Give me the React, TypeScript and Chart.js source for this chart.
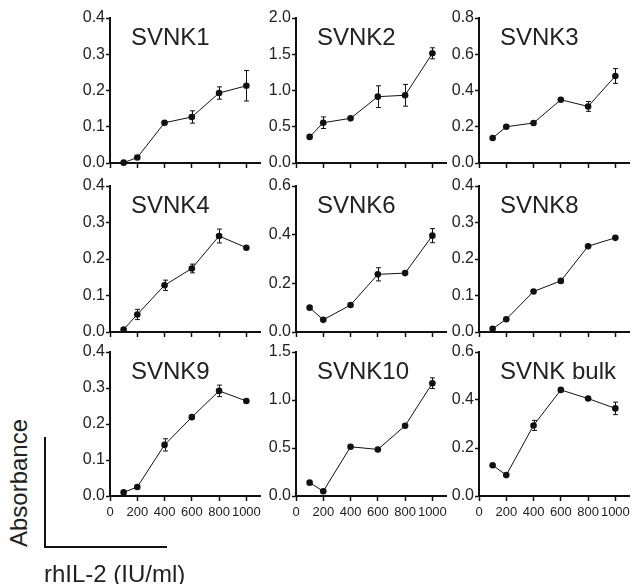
import React, { useEffect, useRef } from "react";
import { Chart, registerables } from "chart.js";

Chart.register(...registerables);

// ---------- data ----------
const DOSES = [100, 200, 400, 600, 800, 1000];
const X_TICKS = [0, 200, 400, 600, 800, 1000];

const Y_TICKS_04 = [0, 0.1, 0.2, 0.3, 0.4];
const Y_TICKS_20 = [0, 0.5, 1.0, 1.5, 2.0];
const Y_TICKS_08 = [0, 0.2, 0.4, 0.6, 0.8];
const Y_TICKS_06 = [0, 0.2, 0.4, 0.6];
const Y_TICKS_15 = [0, 0.5, 1.0, 1.5];

const TITLES = ["SVNK1", "SVNK2", "SVNK3", "SVNK4", "SVNK6", "SVNK8", "SVNK9", "SVNK10", "SVNK bulk"];

const SVNK1 = [0.001, 0.015, 0.111, 0.127, 0.193, 0.213];
const SVNK1_ERR = [0, 0, 0, 0.017, 0.017, 0.042];
const SVNK2 = [0.36, 0.556, 0.616, 0.915, 0.934, 1.513];
const SVNK2_ERR = [0, 0.08, 0, 0.15, 0.15, 0.076];
const SVNK3 = [0.138, 0.2, 0.221, 0.349, 0.312, 0.48];
const SVNK3_ERR = [0, 0, 0, 0, 0.027, 0.041];
const SVNK4 = [0.007, 0.048, 0.128, 0.174, 0.263, 0.231];
const SVNK4_ERR = [0, 0.014, 0.014, 0.012, 0.019, 0];
const SVNK6 = [0.1, 0.05, 0.111, 0.237, 0.242, 0.396];
const SVNK6_ERR = [0, 0, 0, 0.027, 0, 0.029];
const SVNK8 = [0.009, 0.035, 0.111, 0.14, 0.235, 0.258];
const SVNK8_ERR = [0, 0, 0, 0, 0, 0];
const SVNK9 = [0.01, 0.025, 0.142, 0.219, 0.292, 0.264];
const SVNK9_ERR = [0, 0, 0.017, 0, 0.016, 0];
const SVNK10 = [0.139, 0.049, 0.513, 0.485, 0.732, 1.175];
const SVNK10_ERR = [0, 0, 0, 0, 0, 0.056];
const SVNK_BULK = [0.128, 0.087, 0.294, 0.442, 0.406, 0.365];
const SVNK_BULK_ERR = [0, 0, 0.021, 0, 0, 0.026];

const Y_LABEL = "Absorbance";
const X_LABEL = "rhIL-2 (IU/ml)";

const PANELS = [
  { title: TITLES[0], values: SVNK1, errors: SVNK1_ERR, yTicks: Y_TICKS_04 },
  { title: TITLES[1], values: SVNK2, errors: SVNK2_ERR, yTicks: Y_TICKS_20 },
  { title: TITLES[2], values: SVNK3, errors: SVNK3_ERR, yTicks: Y_TICKS_08 },
  { title: TITLES[3], values: SVNK4, errors: SVNK4_ERR, yTicks: Y_TICKS_04 },
  { title: TITLES[4], values: SVNK6, errors: SVNK6_ERR, yTicks: Y_TICKS_06 },
  { title: TITLES[5], values: SVNK8, errors: SVNK8_ERR, yTicks: Y_TICKS_04 },
  { title: TITLES[6], values: SVNK9, errors: SVNK9_ERR, yTicks: Y_TICKS_04 },
  { title: TITLES[7], values: SVNK10, errors: SVNK10_ERR, yTicks: Y_TICKS_15 },
  { title: TITLES[8], values: SVNK_BULK, errors: SVNK_BULK_ERR, yTicks: Y_TICKS_06 },
];

// ---------- layout ----------
const FONT = '"Liberation Sans", Arial, Helvetica, sans-serif';
const COL_AXIS = [110, 296, 479];
const ROW_TOP = [18, 186, 352];
const ROW_H = [145, 146, 144];
const AREA_W = 150;
const Y_AXIS_W = 50;
const PAD_TOP = 12;
const PAD_RIGHT = 6;
const X_AXIS_H = 30;
const X_MAX = 1100;

type PanelProps = {
  title: string;
  values: number[];
  errors: number[];
  yTicks: number[];
  showXLabels: boolean;
  left: number;
  top: number;
  width: number;
  height: number;
};

function Panel(props: PanelProps) {
  const ref = useRef<HTMLCanvasElement | null>(null);
  useEffect(() => {
    const canvas = ref.current;
    if (!canvas) return;
    const { title, values, errors, yTicks, showXLabels } = props;

    const errorBars = {
      id: "errorBars",
      afterDatasetsDraw(chart: any) {
        const xs = chart.scales.x;
        const ys = chart.scales.y;
        const ctx = chart.ctx;
        ctx.save();
        ctx.strokeStyle = "#111";
        ctx.lineWidth = 1;
        values.forEach((v, i) => {
          const e = errors[i];
          if (!e) return;
          const x = Math.round(xs.getPixelForValue(DOSES[i])) + 0.5;
          const y1 = ys.getPixelForValue(v - e);
          const y2 = ys.getPixelForValue(v + e);
          ctx.beginPath();
          ctx.moveTo(x, y1);
          ctx.lineTo(x, y2);
          ctx.moveTo(x - 2.5, y1);
          ctx.lineTo(x + 2.5, y1);
          ctx.moveTo(x - 2.5, y2);
          ctx.lineTo(x + 2.5, y2);
          ctx.stroke();
        });
        ctx.restore();
      },
    };

    const panelTitle = {
      id: "panelTitle",
      afterDraw(chart: any) {
        const ctx = chart.ctx;
        const area = chart.chartArea;
        ctx.save();
        ctx.font = "24px " + FONT;
        ctx.fillStyle = "#222";
        ctx.textAlign = "left";
        ctx.textBaseline = "alphabetic";
        ctx.fillText(title, area.left + 21, area.top + 26.5);
        ctx.restore();
      },
    };

    const chart = new Chart(canvas, {
      type: "line",
      data: {
        datasets: [
          {
            data: values.map((v, i) => ({ x: DOSES[i], y: v })),
            borderColor: "#111",
            borderWidth: 1,
            pointRadius: 3.3,
            pointBackgroundColor: "#111",
            pointBorderWidth: 0,
            pointHoverRadius: 3.3,
            tension: 0,
            fill: false,
            clip: false as any,
          },
        ],
      },
      options: {
        animation: false,
        responsive: false,
        maintainAspectRatio: false,
        events: [],
        layout: { padding: { top: PAD_TOP, right: PAD_RIGHT, left: 0, bottom: 0 } },
        plugins: {
          legend: { display: false },
          tooltip: { enabled: false },
          title: { display: false },
        },
        scales: {
          x: {
            type: "linear",
            min: 0,
            max: X_MAX,
            afterBuildTicks: (s: any) => {
              s.ticks = X_TICKS.map((v) => ({ value: v }));
            },
            afterFit: (s: any) => {
              s.height = X_AXIS_H;
            },
            ticks: {
              autoSkip: false,
              maxRotation: 0,
              minRotation: 0,
              padding: 4,
              color: showXLabels ? "#222" : "rgba(0,0,0,0)",
              font: { family: FONT, size: 13 },
              callback: (v: any) => String(v),
            },
            grid: {
              display: true,
              drawOnChartArea: false,
              drawTicks: true,
              tickLength: 5,
              tickWidth: 1.5,
              tickColor: "#111",
            },
            border: { display: true, color: "#111", width: 2 },
          },
          y: {
            type: "linear",
            min: yTicks[0],
            max: yTicks[yTicks.length - 1],
            afterBuildTicks: (s: any) => {
              s.ticks = yTicks.map((v) => ({ value: v }));
            },
            afterFit: (s: any) => {
              s.width = Y_AXIS_W;
            },
            ticks: {
              padding: 1,
              color: "#222",
              font: { family: FONT, size: 16 },
              callback: (v: any) => Number(v).toFixed(1),
            },
            grid: {
              display: true,
              drawOnChartArea: false,
              drawTicks: true,
              tickLength: 4,
              tickWidth: 1.5,
              tickColor: "#111",
            },
            border: { display: true, color: "#111", width: 2 },
          },
        },
      } as any,
      plugins: [errorBars, panelTitle],
    });
    return () => chart.destroy();
  }, []);

  return (
    <canvas
      ref={ref}
      width={props.width}
      height={props.height}
      style={{
        position: "absolute",
        left: props.left,
        top: props.top,
        width: props.width,
        height: props.height,
        display: "block",
      }}
    />
  );
}

export default function App() {
  return (
    <div
      style={{
        position: "fixed",
        left: 0,
        top: 0,
        width: 637,
        height: 584,
        background: "#fff",
        overflow: "hidden",
        fontFamily: FONT,
      }}
    >
      {PANELS.map((p, idx) => {
        const r = Math.floor(idx / 3);
        const c = idx % 3;
        const left = COL_AXIS[c] - Y_AXIS_W;
        const top = ROW_TOP[r] - PAD_TOP;
        const width = Y_AXIS_W + AREA_W + PAD_RIGHT;
        const height = PAD_TOP + ROW_H[r] + X_AXIS_H;
        return (
          <Panel
            key={p.title}
            title={p.title}
            values={p.values}
            errors={p.errors}
            yTicks={p.yTicks}
            showXLabels={r === 2}
            left={left}
            top={top}
            width={width}
            height={height}
          />
        );
      })}
      <div
        style={{
          position: "absolute",
          left: 19 - 100,
          top: 482.5 - 12,
          width: 200,
          height: 24,
          lineHeight: "24px",
          fontSize: 24,
          textAlign: "center",
          color: "#222",
          transform: "rotate(-90deg)",
          transformOrigin: "50% 50%",
          whiteSpace: "nowrap",
        }}
      >
        {Y_LABEL}
      </div>
      <div style={{ position: "absolute", left: 44, top: 437, width: 2, height: 111, background: "#111" }} />
      <div style={{ position: "absolute", left: 44, top: 546, width: 123, height: 2, background: "#111" }} />
      <div
        style={{
          position: "absolute",
          left: 44,
          top: 562,
          height: 24,
          lineHeight: "24px",
          fontSize: 24,
          color: "#222",
          whiteSpace: "nowrap",
        }}
      >
        {X_LABEL}
      </div>
    </div>
  );
}
